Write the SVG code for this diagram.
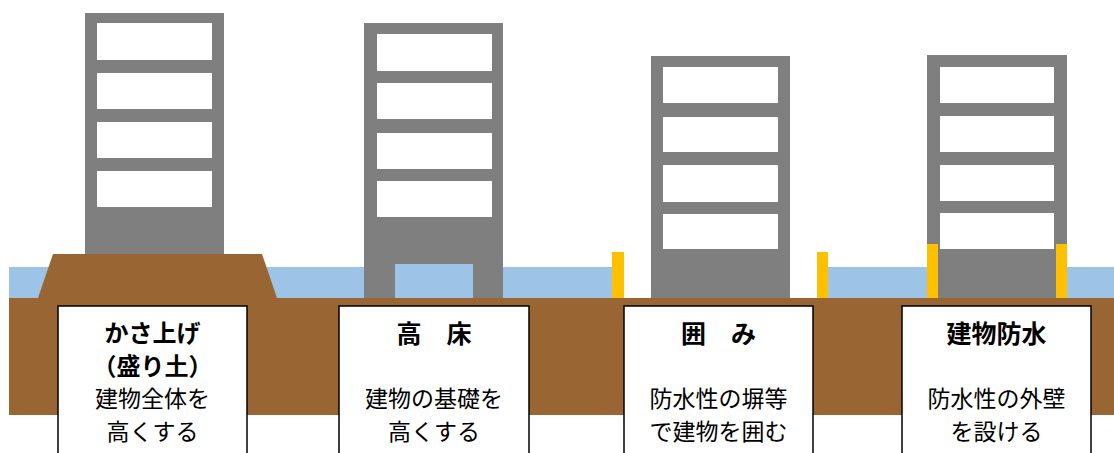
<svg xmlns="http://www.w3.org/2000/svg" width="1114" height="453" viewBox="0 0 1114 453">
  <style>
    .frame { fill: #7f7f7f; }
    .win { fill: #ffffff; }
    .water { fill: #9dc3e6; }
    .soil { fill: #996633; }
    .wall { fill: #ffc000; }
    .card { fill: #ffffff; stroke: #000000; stroke-width: 1.5; }
    .title { font-family: "Noto Sans CJK JP", sans-serif; font-weight: bold; font-size: 25px; fill: #000000; text-anchor: middle; }
    .title2 { font-size: 24px; }
    .note { font-family: "Noto Sans CJK JP", sans-serif; font-size: 23px; fill: #000000; text-anchor: middle; }
  </style>

  <!-- flood water and ground -->
  <g id="terrain">
    <rect class="water" x="9" y="267" width="603" height="31"/>
    <rect class="water" x="828" y="267" width="286" height="31"/>
    <rect class="soil" x="9" y="298" width="1105" height="117"/>
  </g>

  <!-- raised ground (embankment) -->
  <g id="raise">
    <rect class="frame" x="85" y="13" width="139" height="242"/>
    <rect class="win" x="97" y="23" width="115" height="37"/>
    <rect class="win" x="97" y="73" width="115" height="36"/>
    <rect class="win" x="97" y="122" width="115" height="36"/>
    <rect class="win" x="97" y="171" width="115" height="36"/>
    <polygon class="soil" points="38,298 53,254 262,254 277,298"/>
    <rect class="card" x="58" y="306" width="189" height="150"/>
    <text class="title title2" x="152.5" y="341.5">かさ上げ</text>
    <text class="title title2" x="152.5" y="375">（盛り土）</text>
    <text class="note" x="152.5" y="406.7">建物全体を</text>
    <text class="note" x="152.5" y="439.7">高くする</text>
  </g>

  <!-- raised floor (piloti) -->
  <g id="piloti">
    <rect class="frame" x="364" y="23" width="139" height="275"/>
    <rect class="win" x="377" y="34" width="115" height="37"/>
    <rect class="win" x="377" y="83" width="115" height="36"/>
    <rect class="win" x="377" y="133" width="115" height="36"/>
    <rect class="win" x="377" y="181" width="115" height="36"/>
    <rect class="water" x="395" y="264" width="78" height="34"/>
    <rect class="card" x="339" y="306" width="190" height="150"/>
    <text class="title" x="434" y="342.5">高　床</text>
    <text class="note" x="434" y="406.7">建物の基礎を</text>
    <text class="note" x="434" y="439.7">高くする</text>
  </g>

  <!-- enclosure walls -->
  <g id="enclose">
    <rect class="frame" x="651" y="56" width="139" height="242"/>
    <rect class="win" x="663" y="67" width="115" height="36"/>
    <rect class="win" x="663" y="117" width="115" height="35"/>
    <rect class="win" x="663" y="165" width="115" height="37"/>
    <rect class="win" x="663" y="214" width="115" height="35"/>
    <rect class="wall" x="612" y="252" width="12" height="46"/>
    <rect class="wall" x="817" y="252" width="11" height="46"/>
    <rect class="card" x="624" y="306" width="189" height="150"/>
    <text class="title" x="718.5" y="342.5">囲　み</text>
    <text class="note" x="718.5" y="406.7">防水性の塀等</text>
    <text class="note" x="718.5" y="439.7">で建物を囲む</text>
  </g>

  <!-- building waterproofing -->
  <g id="waterproof">
    <rect class="frame" x="927" y="55" width="140" height="243"/>
    <rect class="win" x="940" y="67" width="114" height="36"/>
    <rect class="win" x="940" y="116" width="114" height="36"/>
    <rect class="win" x="940" y="165" width="114" height="36"/>
    <rect class="win" x="940" y="213" width="114" height="36"/>
    <rect class="wall" x="927" y="244" width="11" height="54"/>
    <rect class="wall" x="1056" y="244" width="11" height="54"/>
    <rect class="card" x="902" y="306" width="189" height="150"/>
    <text class="title" x="996.5" y="342.5">建物防水</text>
    <text class="note" x="996.5" y="406.7">防水性の外壁</text>
    <text class="note" x="996.5" y="439.7">を設ける</text>
  </g>
</svg>
